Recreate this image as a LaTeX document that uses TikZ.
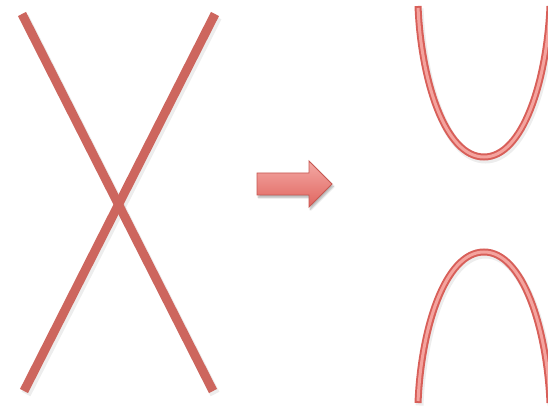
\documentclass[tikz,border=0pt]{standalone}
\usetikzlibrary{shadows.blur}
\definecolor{xred}{HTML}{CD665E}
\definecolor{cdark}{HTML}{D85F59}
\definecolor{clight}{HTML}{F4A39E}
\definecolor{atop}{HTML}{F4AAA5}
\definecolor{abot}{HTML}{E0655F}
\definecolor{aedge}{HTML}{C65852}
\tikzset{
  xline/.style={draw=xred, line width=9pt},
  xshadow/.style={draw=black, opacity=0.07, line width=10pt},
  curveouter/.style={draw=cdark, line width=7pt},
  curveinner/.style={draw=clight, line width=3pt},
  curveshadow/.style={draw=black, opacity=0.07, line width=8pt},
  bigarrow/.style={draw=aedge, line width=0.9pt, top color=atop, bottom color=abot, line join=miter,
    blur shadow={shadow xshift=1.5pt, shadow yshift=-2.5pt, shadow blur steps=6, shadow opacity=30}}
}
\begin{document}
\begin{tikzpicture}[x=1pt,y=-1pt]
\useasboundingbox (0,0) rectangle (548,411);
\clip (0,0) rectangle (548,411);
% shadows of X
\draw[xshadow] (24,17) -- (215,394);
\draw[xshadow] (217,17) -- (26,394);
% X
\draw[xline] (22,14) -- (213,391);
\draw[xline] (215,14) -- (24,391);
% arrow
\path[bigarrow] (257,173) -- (309,173) -- (309,161) -- (332,184) -- (309,207) -- (309,195) -- (257,195) -- cycle;
% shadows of curves
\begin{scope}[xshift=1.5pt, yshift=-2.5pt]
\draw[curveshadow] (418,6) .. controls (421,80) and (445,157) .. (484,157) .. controls (523,157) and (547,80) .. (550,6);
\draw[curveshadow] (418,403) .. controls (421,329) and (445,252) .. (484,252) .. controls (523,252) and (547,329) .. (550,403);
\end{scope}
% upper U
\draw[curveouter] (418,6) .. controls (421,80) and (445,157) .. (484,157) .. controls (523,157) and (547,80) .. (550,6);
\draw[curveinner, shorten <=2pt] (418,6) .. controls (421,80) and (445,157) .. (484,157) .. controls (523,157) and (547,80) .. (550,6);
% lower arch
\draw[curveouter] (418,403) .. controls (421,329) and (445,252) .. (484,252) .. controls (523,252) and (547,329) .. (550,403);
\draw[curveinner, shorten <=2pt] (418,403) .. controls (421,329) and (445,252) .. (484,252) .. controls (523,252) and (547,329) .. (550,403);
\end{tikzpicture}
\end{document}
